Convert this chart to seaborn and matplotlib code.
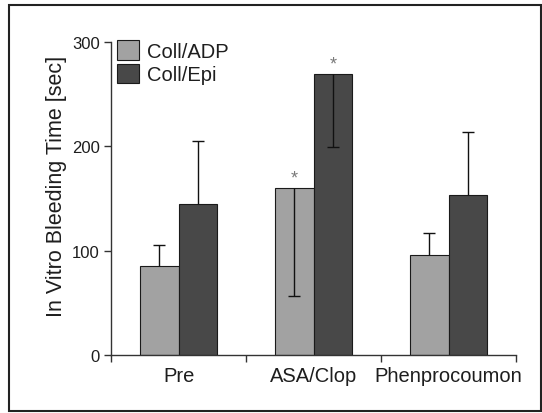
import numpy as np
import pandas as pd
import seaborn as sns
import matplotlib.pyplot as plt
from matplotlib.patches import Rectangle

# values
groups = ['Pre', 'ASA/Clop', 'Phenprocoumon']
series = ['Coll/ADP', 'Coll/Epi']
adp_mean = [85, 160, 96]
epi_mean = [145, 269, 153]
adp_err_lo = [0, 103, 0]
adp_err_hi = [20, 0, 21]
epi_err_lo = [0, 70, 0]
epi_err_hi = [60, 0, 61]
adp_sig = [False, True, False]
epi_sig = [False, True, False]
yticks = [0, 100, 200, 300]

sns.set_style('ticks')
plt.rcParams['font.family'] = ['Liberation Sans', 'DejaVu Sans']
txt = '#1e1e1e'

df = pd.DataFrame({'group': groups * 2,
                   'series': [series[0]] * len(groups) + [series[1]] * len(groups),
                   'value': adp_mean + epi_mean})

fig = plt.figure(figsize=(5.42, 4.14), dpi=100)
ax = fig.add_axes([0.205, 0.140, 0.747, 0.756])

sns.barplot(data=df, x='group', y='value', hue='series', hue_order=series,
            palette=['#a2a2a2', '#484848'], saturation=1, width=0.575, gap=0,
            edgecolor='#1a1a1a', linewidth=0.8, errorbar=None, ax=ax)

cap = 0.045  # half cap width in category units
for cont, lo, hi, sig in zip(ax.containers, [adp_err_lo, epi_err_lo],
                             [adp_err_hi, epi_err_hi], [adp_sig, epi_sig]):
    for b, l, u, s in zip(cont, lo, hi, sig):
        x = b.get_x() + b.get_width() / 2
        h = b.get_height()
        # one-sided error bars: only the non-zero side is drawn
        for end in [h - l if l else None, h + u if u else None]:
            if end is None:
                continue
            ax.vlines(x, h, end, color='#111111', lw=1, zorder=3)
            ax.hlines(end, x - cap, x + cap, color='#111111', lw=1, zorder=3)
        if s:
            ax.annotate('*', xy=(x, h), xytext=(0, 1.5), textcoords='offset points',
                        ha='center', va='bottom', fontsize=13, color='#7a7a7a')

ax.set_xlim(-0.5, 2.5)
ax.set_ylim(0, 300)
ax.set_yticks(yticks)
ax.set_xticks(range(len(groups)))
ax.set_xticklabels(groups)
ax.set_xticks(np.arange(len(groups) + 1) - 0.5, minor=True)
ax.tick_params(axis='x', which='major', length=0, pad=8, labelsize=14.5, colors=txt)
ax.tick_params(axis='x', which='minor', length=5, width=1, direction='out', color='#333333')
ax.tick_params(axis='y', length=5, width=1, pad=3, labelsize=12, colors='#333333', labelcolor=txt)
ax.set_xlabel('')
ax.set_ylabel('In Vitro Bleeding Time [sec]', fontsize=15.5, color=txt)
ax.yaxis.set_label_coords(-0.108, 0.543)
sns.despine(ax=ax)
for sp in ['left', 'bottom']:
    ax.spines[sp].set_color('#333333')
    ax.spines[sp].set_linewidth(1)

sns.move_legend(ax, 'upper left', bbox_to_anchor=(0.015, 1.006), title=None,
                frameon=False, fontsize=14.5, handlelength=1.1, handleheight=1.1,
                labelspacing=0.15, handletextpad=0.4, borderpad=0, borderaxespad=0)
for t in ax.get_legend().get_texts():
    t.set_color(txt)

fig.patches.append(Rectangle((0.0175, 0.005), 0.980, 0.980, transform=fig.transFigure,
                             fill=False, edgecolor='#222222', linewidth=1.5))

fig.savefig('out.png', dpi=100)
